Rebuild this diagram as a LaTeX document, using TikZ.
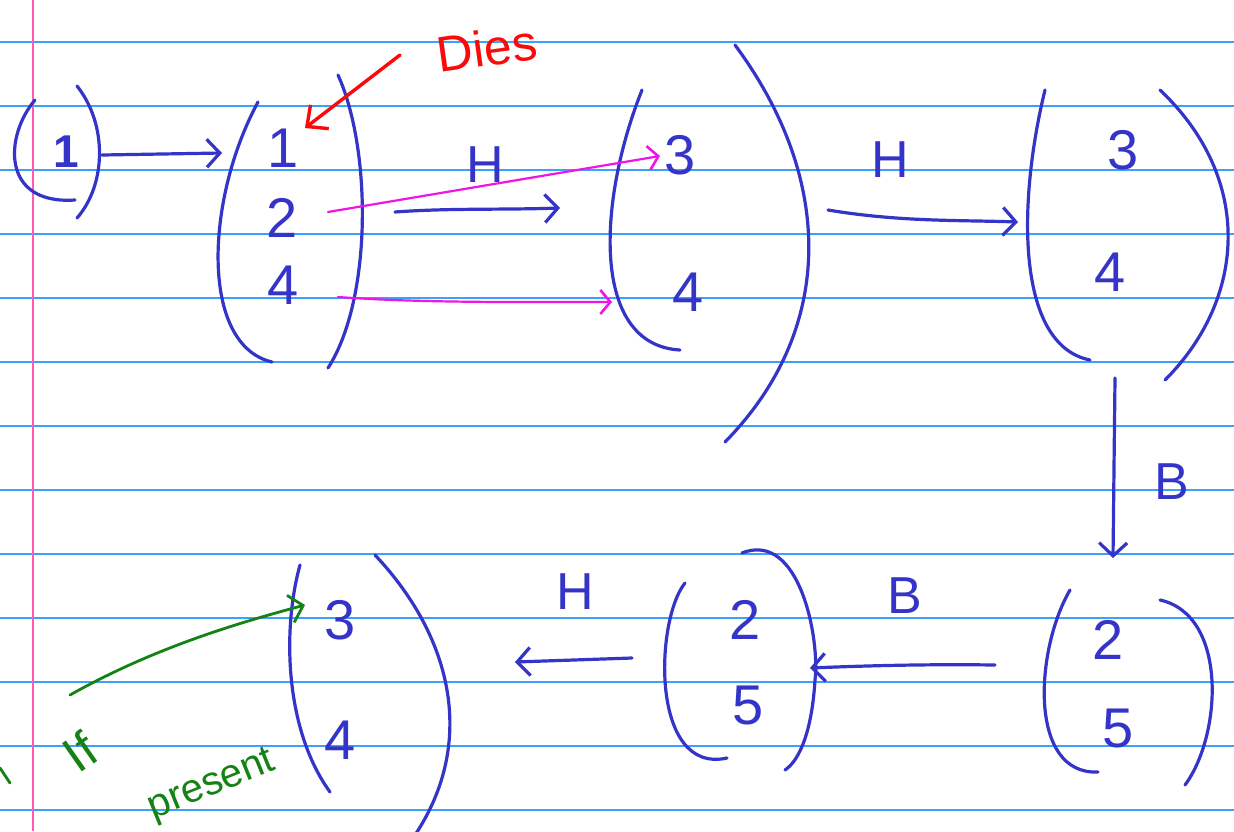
\documentclass[tikz,border=0pt]{standalone}
\usepackage{fontspec}
\setmainfont{Liberation Sans}
\usetikzlibrary{arrows.meta}
\definecolor{inkblue}{RGB}{52,52,200}
\definecolor{rulecol}{RGB}{60,160,255}
\definecolor{margincol}{RGB}{255,90,180}
\definecolor{inkmag}{RGB}{240,20,230}
\definecolor{inkred}{RGB}{250,10,10}
\definecolor{inkgreen}{RGB}{20,130,20}
\tikzset{
  ruled/.style={draw=rulecol, line width=1.2pt},
  margin/.style={draw=margincol, line width=1.5pt},
  paren/.style={draw=inkblue, line width=3.2pt, line cap=round},
  digit/.style={text=inkblue, inner sep=0pt, font=\fontsize{56}{56}\selectfont},
  lbl/.style={text=inkblue, inner sep=0pt, font=\fontsize{52}{52}\selectfont},
  harrow/.style={draw=inkblue, line width=3.2pt, line cap=round, -{Straight Barb[length=13pt,width=28pt,line width=3.2pt]}},
  marrow/.style={draw=inkmag, line width=2.2pt, line cap=round, -{Straight Barb[length=10pt,width=24pt,line width=2.6pt]}},
  rarrow/.style={draw=inkred, line width=3.4pt, line cap=round, -{Straight Barb[length=16pt,width=30pt,line width=3.4pt]}},
  garrow/.style={draw=inkgreen, line width=2.8pt, line cap=round, -{Straight Barb[length=13pt,width=28pt,line width=2.8pt]}},
}
\begin{document}
\begin{tikzpicture}[x=1pt,y=-1pt]
\useasboundingbox (0,0) rectangle (1234,831);
\clip (0,0) rectangle (1234,831);
% paper
\fill[white] (0,0) rectangle (1234,831);
\foreach \yy in {42,106,170,234,298,362,426,490,554,618,682,746,810}
  \draw[ruled] (0,\yy) -- (1234,\yy);
\draw[margin] (33,0) -- (33,831);

% group A
\node[digit, font=\bfseries\fontsize{46}{46}\selectfont] (a1) at (66,152) {1};
\draw[paren] (35,100) .. controls (5,135) and (0,205) .. (75,200);
\draw[paren] (77,86) .. controls (108,125) and (106,185) .. (77,218);

% group B
\node[digit] (b1) at (283,148) {1};
\node[digit] (b2) at (282,218) {2};
\node[digit] (b4) at (283,285) {4};
\draw[paren] (258,102) .. controls (205,200) and (200,345) .. (272,362);
\draw[paren] (338,75) .. controls (372,150) and (372,300) .. (328,368);

% group C
\node[digit] (c3) at (680,155) {3};
\node[digit] (c4) at (688,292) {4};
\draw[paren] (642,90) .. controls (598,200) and (590,345) .. (680,350);
\draw[paren] (735,45) .. controls (835,180) and (835,330) .. (725,442);

% group D
\node[digit] (d3) at (1123,150) {3};
\node[digit] (d4) at (1110,272) {4};
\draw[paren] (1045,90) .. controls (1018,200) and (1015,345) .. (1090,360);
\draw[paren] (1160,90) .. controls (1255,180) and (1245,300) .. (1165,380);

% group E
\node[digit] (e2) at (1108,640) {2};
\node[digit] (e5) at (1118,728) {5};
\draw[paren] (1070,590) .. controls (1035,650) and (1028,775) .. (1098,772);
\draw[paren] (1160,600) .. controls (1228,615) and (1222,735) .. (1185,785);

% group F
\node[digit] (f2) at (745,620) {2};
\node[digit] (f5) at (748,705) {5};
\draw[paren] (685,583) .. controls (655,620) and (650,775) .. (727,758);
\draw[paren] (742,553) .. controls (800,530) and (820,640) .. (815,680) .. controls (812,730) and (800,760) .. (785,770);

% group G
\node[digit] (g3) at (340,620) {3};
\node[digit] (g4) at (340,740) {4};
\draw[paren] (300,565) .. controls (282,630) and (285,730) .. (330,792);
\draw[paren] (375,555) .. controls (455,640) and (475,745) .. (415,835);

% arrow end points
\coordinate (aOut) at (102,155);
\coordinate (bIn) at (222,153);
\coordinate (bH1) at (395,212);
\coordinate (cH1) at (560,208);
\coordinate (b2m) at (328,212);
\coordinate (c3m) at (660,156);
\coordinate (b4m) at (338,297);
\coordinate (c4m) at (612,302);
\coordinate (cOut) at (828,210);
\coordinate (dIn) at (1018,222);
\coordinate (dOut) at (1115,378);
\coordinate (eIn) at (1113,558);
\coordinate (eOut) at (995,665);
\coordinate (fIn) at (810,668);
\coordinate (fOut) at (632,658);
\coordinate (gIn) at (515,662);
\coordinate (ifA) at (70,695);
\coordinate (g3in) at (305,605);
\coordinate (diesA) at (400,55);
\coordinate (b1in) at (305,128);

\draw[harrow] (aOut) -- (bIn);
\draw[harrow] (bH1) .. controls (450,208) and (500,210) .. (cH1);
\draw[marrow] (b2m) -- (c3m);
\draw[marrow] (b4m) .. controls (420,303) and (520,302) .. (c4m);
\draw[harrow] (cOut) .. controls (900,222) and (960,220) .. (dIn);
\draw[harrow] (dOut) -- (eIn);
\draw[harrow] (eOut) .. controls (920,664) and (860,666) .. (fIn);
\draw[harrow] (fOut) -- (gIn);
\draw[garrow] (ifA) .. controls (150,650) and (230,625) .. (g3in);
\draw[rarrow] (diesA) -- (b1in);

% labels
\node[lbl] (h1) at (485,165) {H};
\node[lbl] (h2) at (890,160) {H};
\node[lbl] (bb1) at (1172,482) {B};
\node[lbl] (bb2) at (905,596) {B};
\node[lbl] (h3) at (575,592) {H};
\node[text=inkred, inner sep=0pt, font=\fontsize{50}{50}\selectfont, rotate=8] (dies) at (487,48) {Dies};
\node[text=inkgreen, inner sep=0pt, font=\fontsize{50}{50}\selectfont, rotate=35] (iff) at (80,752) {If};
\node[text=inkgreen, inner sep=0pt, font=\fontsize{40}{40}\selectfont, rotate=22] (pres) at (212,786) {present};
\draw[draw=inkgreen, line width=2.8pt, line cap=round] (0,768) -- (10,783);
\end{tikzpicture}
\end{document}
